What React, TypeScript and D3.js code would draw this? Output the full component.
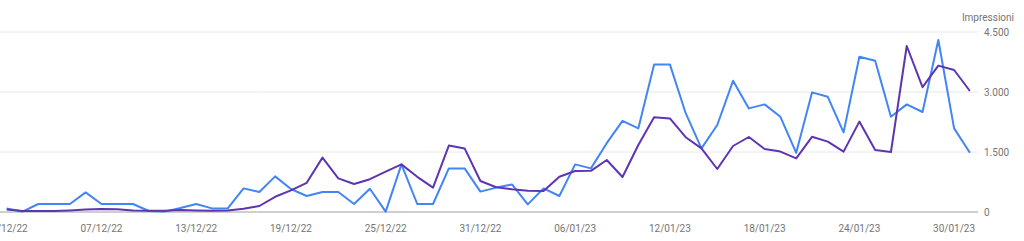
import React from "react";
import * as d3 from "d3";

const startDate = "2022-12-01";
const clicks = [90, 10, 200, 200, 200, 490, 200, 200, 200, 25, 10, 100, 200, 90, 90, 590, 500, 890, 575, 400, 500, 500, 200, 580, 10, 1190, 200, 200, 1090, 1090, 510, 610, 690, 190, 590, 400, 1190, 1090, 1720, 2280, 2090, 3690, 3690, 2470, 1590, 2175, 3280, 2590, 2690, 2380, 1480, 2990, 2880, 1990, 3880, 3780, 2380, 2690, 2500, 4300, 2090, 1480];
const impressions = [60, 25, 25, 25, 40, 60, 75, 70, 40, 30, 30, 50, 40, 30, 40, 80, 150, 380, 540, 730, 1360, 840, 700, 820, 1010, 1190, 880, 610, 1660, 1590, 775, 620, 570, 530, 525, 880, 1025, 1030, 1300, 875, 1675, 2370, 2340, 1870, 1590, 1075, 1650, 1875, 1575, 1510, 1340, 1880, 1760, 1510, 2260, 1550, 1500, 4150, 3120, 3660, 3550, 3025];
const yTicks = [0, 1500, 3000, 4500];
const xTickLabels = ["01/12/22", "07/12/22", "13/12/22", "19/12/22", "25/12/22", "31/12/22", "06/01/23", "12/01/23", "18/01/23", "24/01/23", "30/01/23"];
const axisTitle = "Impressioni";

const W = 1024;
const H = 241;

export default function App() {
  const parse = d3.timeParse("%Y-%m-%d");
  const fmt = d3.timeFormat("%d/%m/%y");
  const start = parse(startDate) as Date;
  const dates = impressions.map((_, i) => d3.timeDay.offset(start, i));

  const x = d3
    .scaleTime()
    .domain([dates[0], dates[dates.length - 1]])
    .range([6.7, 969.9]);
  const y = d3.scaleLinear().domain([0, 4500]).range([212, 32]);

  const line = d3
    .line<number>()
    .x((_, i) => x(dates[i]))
    .y((d) => y(d));

  const tickDates = dates.filter((d) => xTickLabels.includes(fmt(d)));

  return (
    <svg
      width={W}
      height={H}
      style={{ position: "absolute", left: 0, top: 0, display: "block" }}
      fontFamily="Roboto, Arial, sans-serif"
    >
      <rect width={W} height={H} fill="#ffffff" />
      {yTicks.map((t) => (
        <g key={t}>
          {t !== 0 && (
            <line x1={0} x2={978} y1={y(t)} y2={y(t)} stroke="#e8e8e8" strokeWidth={1} />
          )}
          <text x={984} y={y(t)} dy="0.35em" fontSize={10} fill="#757575">
            {d3.format(",")(t).replace(/,/g, ".")}
          </text>
        </g>
      ))}
      <line x1={0} x2={978} y1={y(0)} y2={y(0)} stroke="#9e9e9e" strokeWidth={1} />
      <text x={1014} y={21} textAnchor="end" fontSize={10} fill="#757575">
        {axisTitle}
      </text>
      {tickDates.map((d) => (
        <text key={fmt(d)} x={x(d)} y={232} textAnchor="middle" fontSize={10} fill="#757575">
          {fmt(d)}
        </text>
      ))}
      <path d={line(clicks) || ""} fill="none" stroke="#4285f4" strokeWidth={2} strokeLinejoin="round" />
      <path d={line(impressions) || ""} fill="none" stroke="#5e35b1" strokeWidth={2} strokeLinejoin="round" />
    </svg>
  );
}
